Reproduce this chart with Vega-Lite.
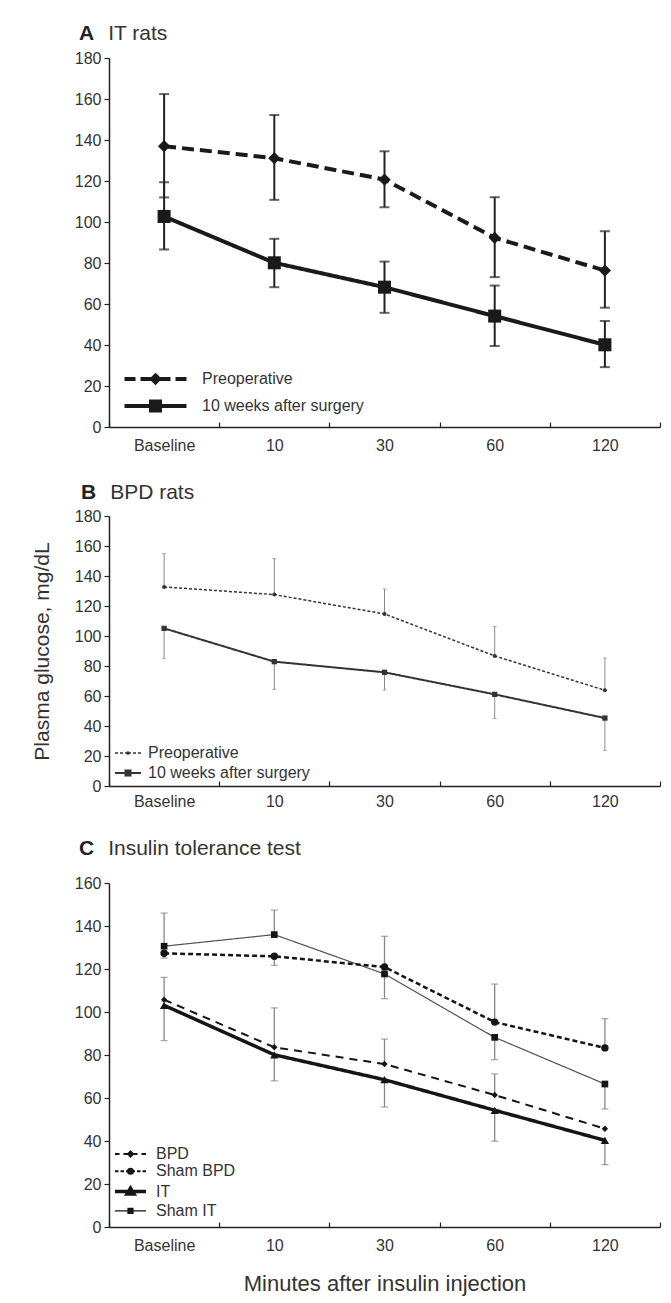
{
  "$schema": "https://vega.github.io/schema/vega-lite/v6.json",
  "padding": {"left": 31, "top": 23, "right": 5, "bottom": 5},
  "background": "white",
  "spacing": 29,
  "resolve": {
    "scale": {"opacity": "independent"},
    "legend": {"opacity": "independent"}
  },
  "datasets": {
    "A": [
      {"time": "Baseline", "series": "Preoperative", "mean": 137, "low": 112, "high": 162.4},
      {"time": "10", "series": "Preoperative", "mean": 131.1, "low": 110.8, "high": 152.2},
      {"time": "30", "series": "Preoperative", "mean": 120.7, "low": 107.2, "high": 134.5},
      {"time": "60", "series": "Preoperative", "mean": 92.3, "low": 73.1, "high": 112.1},
      {"time": "120", "series": "Preoperative", "mean": 76.3, "low": 58.2, "high": 95.5},
      {"time": "Baseline", "series": "10 weeks after surgery", "mean": 102.7, "low": 86.6, "high": 119.4},
      {"time": "10", "series": "10 weeks after surgery", "mean": 80.1, "low": 68.2, "high": 91.8},
      {"time": "30", "series": "10 weeks after surgery", "mean": 68.2, "low": 55.7, "high": 80.7},
      {"time": "60", "series": "10 weeks after surgery", "mean": 54.1, "low": 39.5, "high": 69},
      {"time": "120", "series": "10 weeks after surgery", "mean": 40.1, "low": 29.2, "high": 51.7}
    ],
    "B": [
      {"time": "Baseline", "series": "Preoperative", "mean": 132.7, "low": 132.7, "high": 154.9},
      {"time": "10", "series": "Preoperative", "mean": 127.6, "low": 127.6, "high": 151.6},
      {"time": "30", "series": "Preoperative", "mean": 114.7, "low": 114.7, "high": 131.3},
      {"time": "60", "series": "Preoperative", "mean": 86.7, "low": 86.7, "high": 106.2},
      {"time": "120", "series": "Preoperative", "mean": 63.8, "low": 63.8, "high": 85.3},
      {"time": "Baseline", "series": "10 weeks after surgery", "mean": 105.1, "low": 85.1, "high": 105.1},
      {"time": "10", "series": "10 weeks after surgery", "mean": 82.9, "low": 64.4, "high": 82.9},
      {"time": "30", "series": "10 weeks after surgery", "mean": 75.8, "low": 64, "high": 75.8},
      {"time": "60", "series": "10 weeks after surgery", "mean": 61.1, "low": 44.9, "high": 61.1},
      {"time": "120", "series": "10 weeks after surgery", "mean": 45.3, "low": 23.6, "high": 45.3}
    ],
    "C": [
      {"time": "Baseline", "series": "BPD", "mean": 105.7, "low": 105.7, "high": 116.1},
      {"time": "10", "series": "BPD", "mean": 83.6, "low": 83.6, "high": 101.9},
      {"time": "30", "series": "BPD", "mean": 75.8, "low": 75.8, "high": 87.4},
      {"time": "60", "series": "BPD", "mean": 61.4, "low": 61.4, "high": 71.2},
      {"time": "120", "series": "BPD", "mean": 45.7, "low": 45.7, "high": 45.7},
      {"time": "Baseline", "series": "Sham BPD", "mean": 127.3, "low": 125.1, "high": 127.3},
      {"time": "10", "series": "Sham BPD", "mean": 125.9, "low": 121.7, "high": 125.9},
      {"time": "30", "series": "Sham BPD", "mean": 120.9, "low": 120.9, "high": 135.2},
      {"time": "60", "series": "Sham BPD", "mean": 95.3, "low": 95.3, "high": 113},
      {"time": "120", "series": "Sham BPD", "mean": 83.3, "low": 83.3, "high": 96.9},
      {"time": "Baseline", "series": "IT", "mean": 103.1, "low": 86.7, "high": 103.1},
      {"time": "10", "series": "IT", "mean": 80.1, "low": 68, "high": 80.1},
      {"time": "30", "series": "IT", "mean": 68.5, "low": 55.8, "high": 68.5},
      {"time": "60", "series": "IT", "mean": 54.3, "low": 39.9, "high": 54.3},
      {"time": "120", "series": "IT", "mean": 40.3, "low": 29, "high": 40.3},
      {"time": "Baseline", "series": "Sham IT", "mean": 130.6, "low": 130.6, "high": 146},
      {"time": "10", "series": "Sham IT", "mean": 136, "low": 136, "high": 147.4},
      {"time": "30", "series": "Sham IT", "mean": 117.7, "low": 106.2, "high": 117.7},
      {"time": "60", "series": "Sham IT", "mean": 88.2, "low": 77.8, "high": 88.2},
      {"time": "120", "series": "Sham IT", "mean": 66.5, "low": 54.9, "high": 66.5}
    ]
  },
  "vconcat": [
    {
      "title": {"text": "A", "subtitle": "\u200b\u00a0\u00a0\u00a0\u00a0\u00a0IT rats", "anchor": "start", "frame": "group", "dx": -30, "offset": 6, "fontSize": 21, "fontWeight": "bold", "font": "Liberation Sans", "color": "#222", "subtitleFont": "Liberation Sans", "subtitleFontSize": 21, "subtitleFontWeight": "normal", "subtitleColor": "#333", "subtitlePadding": -21},
      "width": 551,
      "height": 369,
      "data": {"name": "A"},
      "layer": [
        {
          "mark": {"type": "rule", "color": "#222", "strokeWidth": 2},
          "encoding": {
            "x": {"field": "time", "type": "nominal", "sort": ["Baseline", "10", "30", "60", "120"], "scale": {"paddingInner": 0, "paddingOuter": 0}, "title": null, "axis": {"labelAngle": 0, "tickBand": "extent", "tickSize": -5, "labelPadding": 15}},
            "y": {"field": "low", "type": "quantitative", "scale": {"domain": [0, 180], "nice": false}, "title": null, "axis": {"values": [0, 20, 40, 60, 80, 100, 120, 140, 160, 180]}},
            "y2": {"field": "high"}
          }
        },
        {
          "transform": [{"fold": ["low", "high"], "as": ["end", "val"]}, {"filter": "datum.val != datum.mean"}],
          "mark": {"type": "tick", "color": "#222", "size": 10, "thickness": 2},
          "encoding": {
            "x": {"field": "time", "type": "nominal", "sort": ["Baseline", "10", "30", "60", "120"], "title": null},
            "y": {"field": "val", "type": "quantitative", "title": null}
          }
        },
        {
          "mark": {"type": "line", "color": "#1a1a1a", "strokeWidth": 4},
          "encoding": {
            "x": {"field": "time", "type": "nominal", "sort": ["Baseline", "10", "30", "60", "120"], "title": null},
            "y": {"field": "mean", "type": "quantitative", "title": null},
            "detail": {"field": "series", "type": "nominal"},
            "strokeDash": {"condition": {"test": "datum.series === 'Preoperative'", "value": [12, 6]}, "value": [1, 0]},
            "opacity": {
              "field": "series", "type": "nominal",
              "scale": {"domain": ["Preoperative", "10 weeks after surgery"], "range": [1, 1]},
              "legend": {
                "title": null, "orient": "bottom-left", "offset": 8, "padding": 0,
                "symbolSize": 4, "symbolOffset": 30.5, "labelOffset": 38.5, "rowPadding": 2,
                "labelFontSize": 16, "labelColor": "#333", "labelLimit": 400,
                "symbolType": {"expr": "datum.value === 'Preoperative' ? 'M-31,0H-20M-15,0H-4M4,0H15M20,0H31M0,-3.5L3.5,0L0,3.5L-3.5,0ZM-2,0H2' : 'M-31,0H31M-4.5,-4.5H4.5V4.5H-4.5ZM-4.5,-1.5H4.5M-4.5,1.5H4.5'"},
                "symbolStrokeWidth": 4,
                "symbolStrokeColor": "#1a1a1a"
              }
            }
          }
        },
        {
          "mark": {"type": "point", "filled": true, "color": "#1a1a1a", "opacity": 1},
          "encoding": {
            "x": {"field": "time", "type": "nominal", "sort": ["Baseline", "10", "30", "60", "120"], "title": null},
            "y": {"field": "mean", "type": "quantitative", "title": null},
            "shape": {"condition": {"test": "datum.series === 'Preoperative'", "value": "diamond"}, "value": "square"},
            "size": {"condition": {"test": "datum.series === 'Preoperative'", "value": 150}, "value": 170}
          }
        }
      ]
    },
    {
      "title": {"text": "B", "subtitle": "\u200b\u00a0\u00a0\u00a0\u00a0\u00a0BPD rats", "anchor": "start", "frame": "group", "dx": -28, "offset": 5, "fontSize": 21, "fontWeight": "bold", "font": "Liberation Sans", "color": "#222", "subtitleFont": "Liberation Sans", "subtitleFontSize": 21, "subtitleFontWeight": "normal", "subtitleColor": "#333", "subtitlePadding": -21},
      "width": 551,
      "height": 270,
      "data": {"name": "B"},
      "layer": [
        {
          "mark": {"type": "rule", "color": "#8a8a8a", "strokeWidth": 1},
          "encoding": {
            "x": {"field": "time", "type": "nominal", "sort": ["Baseline", "10", "30", "60", "120"], "scale": {"paddingInner": 0, "paddingOuter": 0}, "title": null, "axis": {"labelAngle": 0, "tickBand": "extent", "tickSize": -5, "labelPadding": 12}},
            "y": {"field": "low", "type": "quantitative", "scale": {"domain": [0, 180], "nice": false}, "title": "Plasma glucose, mg/dL", "axis": {"values": [0, 20, 40, 60, 80, 100, 120, 140, 160, 180], "titleFontSize": 21, "titlePadding": 22}},
            "y2": {"field": "high"}
          }
        },
        {
          "transform": [{"fold": ["low", "high"], "as": ["end", "val"]}, {"filter": "datum.val != datum.mean"}],
          "mark": {"type": "tick", "color": "#8a8a8a", "size": 4, "thickness": 1},
          "encoding": {
            "x": {"field": "time", "type": "nominal", "sort": ["Baseline", "10", "30", "60", "120"], "title": null},
            "y": {"field": "val", "type": "quantitative", "title": "Plasma glucose, mg/dL", "axis": {"values": [0, 20, 40, 60, 80, 100, 120, 140, 160, 180], "titleFontSize": 21, "titlePadding": 22}}
          }
        },
        {
          "mark": {"type": "line", "color": "#333"},
          "encoding": {
            "x": {"field": "time", "type": "nominal", "sort": ["Baseline", "10", "30", "60", "120"], "title": null},
            "y": {"field": "mean", "type": "quantitative", "title": "Plasma glucose, mg/dL", "axis": {"values": [0, 20, 40, 60, 80, 100, 120, 140, 160, 180], "titleFontSize": 21, "titlePadding": 22}},
            "detail": {"field": "series", "type": "nominal"},
            "strokeWidth": {"condition": {"test": "datum.series === 'Preoperative'", "value": 1.5}, "value": 2},
            "strokeDash": {"condition": {"test": "datum.series === 'Preoperative'", "value": [3, 2]}, "value": [1, 0]},
            "opacity": {
              "field": "series", "type": "nominal",
              "scale": {"domain": ["Preoperative", "10 weeks after surgery"], "range": [1, 1]},
              "legend": {
                "title": null, "orient": "bottom-left", "offset": 5, "padding": 0,
                "symbolSize": 4, "symbolOffset": 6, "labelOffset": 12, "rowPadding": 4,
                "labelFontSize": 16, "labelColor": "#333", "labelLimit": 400,
                "symbolType": {"expr": "datum.value === 'Preoperative' ? 'M-13,0H-10M-8,0H-5M-3,0H3M5,0H8M10,0H13M-1,0A1,1 0 1,0 1,0A1,1 0 1,0 -1,0' : 'M-13,0H13M-2.5,-2.5H2.5V2.5H-2.5ZM-2.5,-1H2.5M-2.5,1H2.5'"},
                "symbolStrokeWidth": {"expr": "datum.value === 'Preoperative' ? 1.5 : 2"},
                "symbolStrokeColor": "#333"
              }
            }
          }
        },
        {
          "mark": {"type": "point", "filled": true, "color": "#333", "opacity": 1},
          "encoding": {
            "x": {"field": "time", "type": "nominal", "sort": ["Baseline", "10", "30", "60", "120"], "title": null},
            "y": {"field": "mean", "type": "quantitative", "title": "Plasma glucose, mg/dL", "axis": {"values": [0, 20, 40, 60, 80, 100, 120, 140, 160, 180], "titleFontSize": 21, "titlePadding": 22}},
            "shape": {"condition": {"test": "datum.series === 'Preoperative'", "value": "circle"}, "value": "square"},
            "size": {"condition": {"test": "datum.series === 'Preoperative'", "value": 16}, "value": 28}
          }
        }
      ]
    },
    {
      "title": {"text": "C", "subtitle": "\u200b\u00a0\u00a0\u00a0\u00a0\u00a0Insulin tolerance test", "anchor": "start", "frame": "group", "dx": -30, "offset": 16, "fontSize": 21, "fontWeight": "bold", "font": "Liberation Sans", "color": "#222", "subtitleFont": "Liberation Sans", "subtitleFontSize": 21, "subtitleFontWeight": "normal", "subtitleColor": "#333", "subtitlePadding": -21},
      "width": 551,
      "height": 344,
      "data": {"name": "C"},
      "layer": [
        {
          "mark": {"type": "rule", "color": "#888", "strokeWidth": 1.3},
          "encoding": {
            "x": {"field": "time", "type": "nominal", "sort": ["Baseline", "10", "30", "60", "120"], "scale": {"paddingInner": 0, "paddingOuter": 0}, "title": "Minutes after insulin injection", "axis": {"labelAngle": 0, "tickBand": "extent", "tickSize": -5, "labelPadding": 15, "titleFontSize": 22, "titlePadding": 20}},
            "y": {"field": "low", "type": "quantitative", "scale": {"domain": [0, 160], "nice": false}, "title": null, "axis": {"values": [0, 20, 40, 60, 80, 100, 120, 140, 160]}},
            "y2": {"field": "high"}
          }
        },
        {
          "transform": [{"fold": ["low", "high"], "as": ["end", "val"]}, {"filter": "datum.val != datum.mean"}],
          "mark": {"type": "tick", "color": "#888", "size": 7, "thickness": 1.3},
          "encoding": {
            "x": {"field": "time", "type": "nominal", "sort": ["Baseline", "10", "30", "60", "120"], "title": "Minutes after insulin injection"},
            "y": {"field": "val", "type": "quantitative", "title": null}
          }
        },
        {
          "mark": {"type": "line", "color": "#151515"},
          "encoding": {
            "x": {"field": "time", "type": "nominal", "sort": ["Baseline", "10", "30", "60", "120"], "title": "Minutes after insulin injection"},
            "y": {"field": "mean", "type": "quantitative", "title": null},
            "detail": {"field": "series", "type": "nominal"},
            "strokeOpacity": {"condition": {"test": "datum.series === 'Sham IT'", "value": 0.75}, "value": 1},
            "strokeWidth": {"condition": [{"test": "datum.series === 'BPD'", "value": 2}, {"test": "datum.series === 'Sham BPD'", "value": 2.5}, {"test": "datum.series === 'IT'", "value": 3.5}], "value": 1.2},
            "strokeDash": {"condition": [{"test": "datum.series === 'BPD'", "value": [8, 6]}, {"test": "datum.series === 'Sham BPD'", "value": [5, 3]}], "value": [1, 0]},
            "opacity": {
              "field": "series", "type": "nominal",
              "scale": {"domain": ["BPD", "Sham BPD", "IT", "Sham IT"], "range": [1, 1]},
              "legend": {
                "title": null, "orient": "bottom-left", "offset": 8.5, "padding": 0,
                "symbolSize": 4, "symbolOffset": 4.5, "labelOffset": 17.5, "rowPadding": 1.3,
                "labelFontSize": 16, "labelColor": "#333", "labelLimit": 400,
                "symbolType": {"expr": "datum.value === 'BPD' ? 'M-15.5,0H-11M-7,0H-3M3,0H7M11,0H15.5M0,-2.5L2.5,0L0,2.5L-2.5,0ZM0,-1.5V1.5' : datum.value === 'Sham BPD' ? 'M-15.5,0H-12M-10,0H-6.5M-4.5,0H4.5M6.5,0H10M12,0H15.5M-2.5,0A2.5,2.5 0 1,0 2.5,0A2.5,2.5 0 1,0 -2.5,0M0,-2.5V2.5' : datum.value === 'IT' ? 'M-15.5,0H15.5M0,-3.5L3.5,2.5H-3.5ZM-1.5,1H1.5' : 'M-15.5,0H15.5M-2.5,-2.5H2.5V2.5H-2.5ZM-2.5,-1.5H2.5M-2.5,-0.5H2.5M-2.5,0.5H2.5M-2.5,1.5H2.5'"},
                "symbolStrokeWidth": {"expr": "datum.value === 'BPD' ? 2 : datum.value === 'Sham BPD' ? 2 : datum.value === 'IT' ? 3.5 : 1.2"},
                "symbolStrokeColor": "#151515"
              }
            }
          }
        },
        {
          "mark": {"type": "point", "filled": true, "color": "#151515", "opacity": 1},
          "encoding": {
            "x": {"field": "time", "type": "nominal", "sort": ["Baseline", "10", "30", "60", "120"], "title": "Minutes after insulin injection"},
            "y": {"field": "mean", "type": "quantitative", "title": null},
            "shape": {"condition": [{"test": "datum.series === 'BPD'", "value": "diamond"}, {"test": "datum.series === 'Sham BPD'", "value": "circle"}, {"test": "datum.series === 'IT'", "value": "triangle-up"}], "value": "square"},
            "size": {"condition": [{"test": "datum.series === 'BPD'", "value": 40}, {"test": "datum.series === 'Sham BPD'", "value": 55}, {"test": "datum.series === 'IT'", "value": 70}], "value": 45}
          }
        }
      ]
    }
  ],
  "config": {
    "font": "Liberation Sans",
    "view": {"stroke": null},
    "axis": {"labelFont": "Liberation Sans", "labelFontSize": 16, "labelColor": "#333", "domainColor": "#222", "domainWidth": 1.5, "tickColor": "#222", "tickWidth": 1.2, "grid": false, "titleFont": "Liberation Sans", "titleFontWeight": "normal", "titleColor": "#333"},
    "axisY": {"tickSize": 5, "labelPadding": 3},
    "legend": {"labelFont": "Liberation Sans", "labelFontSize": 16, "labelColor": "#333", "padding": 0}
  }
}
